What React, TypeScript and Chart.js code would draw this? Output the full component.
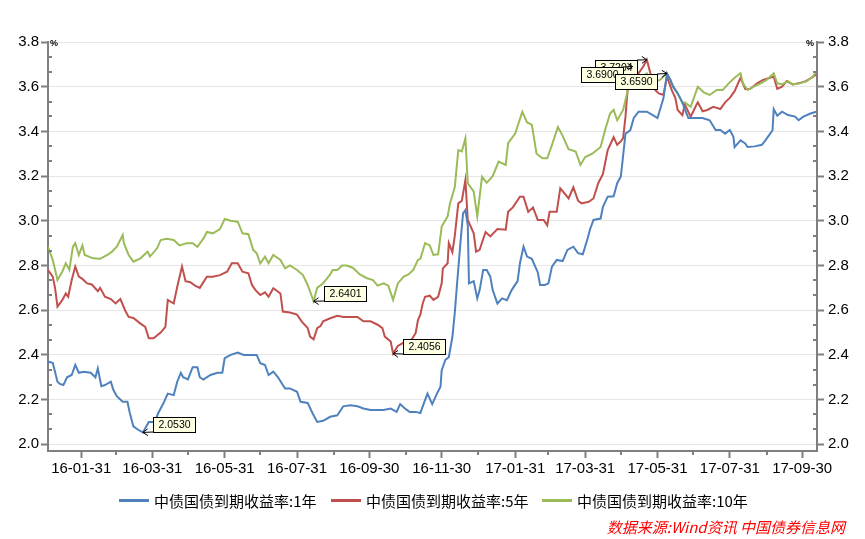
import React, { useEffect, useRef } from 'react';
import { Chart, registerables } from 'chart.js';

Chart.register(...registerables);

// ---------- data (day = days since 2016-01-01, value in %) ----------
const SERIES_NAMES = ['中债国债到期收益率:1年', '中债国债到期收益率:5年', '中债国债到期收益率:10年'];
const COLORS = ['#4F81BD', '#C0504D', '#9BBB59'];
const DRAW_ORDER = [0, 2, 1];

const YIELD_1Y: [number, number][] = [
  [2, 2.37], [6, 2.365], [10, 2.28], [12, 2.27], [15, 2.265], [18, 2.3], [22, 2.31], [25, 2.355], [28, 2.32], [32, 2.325],
  [38, 2.32], [42, 2.3], [44, 2.34], [47, 2.26], [50, 2.265], [55, 2.28], [57, 2.245], [60, 2.215], [65, 2.19], [69, 2.19],
  [71, 2.14], [74, 2.08], [78, 2.065], [82, 2.053], [87, 2.1], [92, 2.1], [95, 2.14], [99, 2.18], [103, 2.227], [108, 2.22],
  [111, 2.28], [114, 2.32], [116, 2.3], [120, 2.29], [124, 2.345], [128, 2.345], [130, 2.3], [133, 2.29], [139, 2.31], [145, 2.32],
  [149, 2.32], [151, 2.385], [156, 2.4], [162, 2.41], [167, 2.4], [173, 2.4], [178, 2.4], [181, 2.363], [185, 2.355], [188, 2.31],
  [192, 2.325], [196, 2.3], [200, 2.265], [202, 2.25], [206, 2.25], [212, 2.235], [215, 2.19], [221, 2.185], [225, 2.14], [229, 2.1],
  [234, 2.105], [240, 2.123], [246, 2.13], [251, 2.17], [257, 2.175], [263, 2.17], [268, 2.16], [274, 2.153], [280, 2.153], [285, 2.153],
  [291, 2.16], [296, 2.145], [299, 2.18], [303, 2.16], [307, 2.145], [312, 2.145], [316, 2.14], [318, 2.17], [322, 2.227], [326, 2.18],
  [330, 2.227], [333, 2.258], [334, 2.33], [337, 2.377], [340, 2.39], [343, 2.48], [345, 2.586], [347, 2.72], [350, 2.914], [352, 3.033],
  [354, 3.048], [356, 2.98], [357, 2.72], [361, 2.73], [364, 2.653], [366, 2.69], [369, 2.78], [372, 2.78], [375, 2.75], [377, 2.69],
  [381, 2.63], [385, 2.653], [389, 2.645], [393, 2.69], [398, 2.73], [400, 2.81], [403, 2.884], [406, 2.84], [410, 2.83], [415, 2.77],
  [417, 2.713], [421, 2.713], [424, 2.72], [427, 2.795], [431, 2.825], [436, 2.82], [440, 2.87], [445, 2.884], [449, 2.855], [453, 2.85],
  [457, 2.92], [459, 2.96], [462, 3.004], [468, 3.01], [470, 3.063], [474, 3.108], [479, 3.11], [482, 3.168], [485, 3.197], [486, 3.242],
  [489, 3.39], [493, 3.405], [496, 3.46], [500, 3.488], [507, 3.488], [512, 3.473], [516, 3.46], [518, 3.496], [521, 3.548], [524, 3.659],
  [527, 3.63], [529, 3.6], [533, 3.57], [537, 3.53], [539, 3.5], [542, 3.46], [548, 3.46], [554, 3.46], [560, 3.45], [565, 3.406],
  [569, 3.406], [573, 3.39], [577, 3.406], [580, 3.376], [581, 3.33], [586, 3.36], [590, 3.346], [592, 3.33], [598, 3.333], [604, 3.34],
  [607, 3.36], [611, 3.39], [613, 3.405], [614, 3.5], [617, 3.47], [621, 3.488], [626, 3.473], [632, 3.466], [635, 3.45], [639, 3.466],
  [645, 3.48], [650, 3.488],
];

const YIELD_5Y: [number, number][] = [
  [2, 2.78], [6, 2.75], [8, 2.698], [10, 2.616], [14, 2.645], [17, 2.675], [19, 2.66], [22, 2.735], [25, 2.795], [28, 2.75],
  [31, 2.74], [35, 2.72], [39, 2.715], [44, 2.685], [46, 2.7], [50, 2.66], [55, 2.65], [59, 2.63], [63, 2.65], [67, 2.6],
  [70, 2.57], [74, 2.565], [80, 2.54], [84, 2.525], [87, 2.474], [91, 2.474], [97, 2.5], [101, 2.525], [103, 2.646], [108, 2.63],
  [111, 2.705], [115, 2.795], [118, 2.73], [122, 2.725], [126, 2.71], [130, 2.7], [136, 2.75], [141, 2.75], [147, 2.757], [153, 2.772],
  [157, 2.81], [162, 2.81], [166, 2.772], [171, 2.765], [174, 2.713], [177, 2.69], [181, 2.668], [185, 2.68], [188, 2.66], [192, 2.698],
  [198, 2.675], [200, 2.594], [206, 2.59], [212, 2.58], [216, 2.549], [221, 2.52], [223, 2.482], [226, 2.47], [229, 2.52], [232, 2.53],
  [234, 2.55], [240, 2.564], [246, 2.575], [251, 2.57], [257, 2.57], [263, 2.57], [268, 2.55], [274, 2.55], [280, 2.535], [284, 2.52],
  [286, 2.482], [291, 2.46], [293, 2.4056], [297, 2.44], [302, 2.455], [307, 2.455], [312, 2.497], [314, 2.556], [316, 2.58], [318, 2.63],
  [320, 2.66], [324, 2.665], [327, 2.646], [331, 2.66], [334, 2.72], [335, 2.787], [339, 2.81], [340, 2.9], [343, 2.86], [345, 2.93],
  [348, 3.078], [351, 3.09], [354, 3.183], [356, 3.004], [361, 2.944], [363, 2.862], [366, 2.87], [371, 2.95], [375, 2.93], [381, 2.963],
  [388, 2.96], [390, 3.04], [394, 3.06], [400, 3.108], [403, 3.108], [407, 3.04], [411, 3.06], [415, 3.004], [420, 3.004], [423, 2.98],
  [425, 3.04], [431, 3.04], [434, 3.145], [438, 3.12], [441, 3.1], [445, 3.15], [449, 3.09], [452, 3.078], [458, 3.085], [462, 3.1],
  [466, 3.168], [470, 3.21], [474, 3.316], [479, 3.374], [482, 3.34], [485, 3.355], [487, 3.37], [489, 3.466], [491, 3.6], [495, 3.69],
  [500, 3.66], [504, 3.69], [507, 3.7204], [510, 3.66], [514, 3.585], [517, 3.57], [521, 3.563], [524, 3.645], [528, 3.585], [531, 3.55],
  [533, 3.496], [537, 3.473], [539, 3.52], [544, 3.466], [548, 3.51], [550, 3.53], [554, 3.49], [558, 3.496], [563, 3.51], [569, 3.5],
  [573, 3.53], [577, 3.55], [581, 3.58], [586, 3.64], [590, 3.59], [594, 3.59], [600, 3.615], [605, 3.63], [611, 3.64], [614, 3.645],
  [617, 3.59], [621, 3.6], [625, 3.625], [630, 3.61], [635, 3.615], [641, 3.625], [646, 3.64], [650, 3.655],
];

const YIELD_10Y: [number, number][] = [
  [2, 2.884], [6, 2.825], [10, 2.735], [14, 2.772], [17, 2.81], [20, 2.78], [23, 2.884], [25, 2.9], [28, 2.847], [31, 2.89],
  [33, 2.847], [40, 2.832], [46, 2.83], [52, 2.847], [56, 2.862], [60, 2.884], [65, 2.936], [66, 2.9], [70, 2.847], [74, 2.817],
  [80, 2.832], [86, 2.862], [88, 2.84], [94, 2.877], [97, 2.914], [102, 2.92], [108, 2.914], [113, 2.89], [119, 2.9], [124, 2.9],
  [128, 2.884], [133, 2.92], [136, 2.95], [141, 2.944], [147, 2.963], [151, 3.008], [156, 3.0], [162, 2.996], [166, 2.944], [171, 2.94],
  [175, 2.87], [178, 2.855], [181, 2.81], [185, 2.84], [188, 2.81], [192, 2.847], [198, 2.825], [202, 2.787], [206, 2.8], [212, 2.78],
  [217, 2.757], [221, 2.713], [226, 2.6401], [229, 2.7], [234, 2.72], [240, 2.76], [242, 2.78], [246, 2.78], [250, 2.8], [254, 2.8],
  [259, 2.79], [265, 2.76], [271, 2.743], [276, 2.735], [280, 2.71], [285, 2.72], [289, 2.71], [293, 2.646], [297, 2.72], [302, 2.75],
  [306, 2.76], [310, 2.78], [314, 2.825], [316, 2.83], [320, 2.9], [324, 2.89], [327, 2.847], [331, 2.85], [334, 2.974], [339, 3.02],
  [341, 3.078], [345, 3.15], [348, 3.316], [351, 3.31], [354, 3.369], [356, 3.168], [361, 3.13], [364, 3.02], [368, 3.197], [372, 3.17],
  [377, 3.2], [382, 3.265], [388, 3.25], [390, 3.347], [396, 3.39], [402, 3.488], [406, 3.44], [410, 3.43], [414, 3.3], [419, 3.28],
  [423, 3.28], [427, 3.34], [432, 3.42], [436, 3.38], [441, 3.32], [447, 3.31], [451, 3.25], [455, 3.285], [461, 3.3], [468, 3.33],
  [472, 3.41], [476, 3.48], [479, 3.496], [482, 3.45], [487, 3.496], [491, 3.585], [496, 3.615], [501, 3.64], [507, 3.66], [512, 3.615],
  [518, 3.63], [524, 3.66], [528, 3.615], [533, 3.57], [537, 3.526], [539, 3.53], [544, 3.51], [548, 3.57], [550, 3.6], [555, 3.575],
  [560, 3.563], [566, 3.585], [571, 3.585], [576, 3.615], [581, 3.64], [586, 3.66], [588, 3.615], [592, 3.585], [597, 3.6], [603, 3.615],
  [608, 3.63], [614, 3.66], [617, 3.615], [621, 3.61], [626, 3.625], [630, 3.61], [636, 3.615], [642, 3.625], [647, 3.645], [650, 3.667],
];

const SERIES = [YIELD_1Y, YIELD_5Y, YIELD_10Y];

// ---------- axes ----------
const X_TICK_LABELS = ['16-01-31', '16-03-31', '16-05-31', '16-07-31', '16-09-30', '16-11-30', '17-01-31', '17-03-31', '17-05-31', '17-07-31', '17-09-30'];
const X_MINOR_DATES = ['16-02-29', '16-04-30', '16-06-30', '16-08-31', '16-10-31', '16-12-31', '17-02-28', '17-04-30', '17-06-30', '17-08-31'];
const Y_TICKS = [2.0, 2.2, 2.4, 2.6, 2.8, 3.0, 3.2, 3.4, 3.6, 3.8];
const X_MIN = 2;
const X_MAX = 650.5;
const Y_MIN = 1.97;
const Y_MAX = 3.8;

// ---------- annotations (day, value, side of box) ----------
const ANNOT_DAYS = [82, 293, 226, 507, 495, 524];
const ANNOT_VALUES = [2.053, 2.4056, 2.6401, 3.7204, 3.69, 3.659];
const ANNOT_SIDES = ['right', 'right', 'right', 'left', 'left', 'left'];

const SOURCE_TEXT = '数据来源:Wind资讯 中国债券信息网';

const FONT = '"Liberation Sans", Arial, sans-serif';
const CJK_FONT = '"Noto Sans CJK SC", "Liberation Sans", sans-serif';
const AXIS_COLOR = '#7F7F7F';

function dayOf(s: string): number {
  const [yy, mm, dd] = s.split('-').map(Number);
  return (Date.UTC(2000 + yy, mm - 1, dd) - Date.UTC(2016, 0, 1)) / 86400000;
}

const X_MAJOR_DAYS = X_TICK_LABELS.map(dayOf);
const X_MINOR_DAYS = X_MINOR_DATES.map(dayOf);

const decorPlugin = {
  id: 'decor',
  afterDraw(chart: any) {
    const { ctx, chartArea } = chart;
    const xs = chart.scales.x;
    const ys = chart.scales.y;
    ctx.save();
    // minor ticks
    ctx.strokeStyle = AXIS_COLOR;
    ctx.lineWidth = 2;
    ctx.beginPath();
    X_MINOR_DAYS.forEach((d) => {
      const px = Math.round(xs.getPixelForValue(d));
      ctx.moveTo(px, chartArea.bottom);
      ctx.lineTo(px, chartArea.bottom + 4);
    });
    for (let i = 0; i < Y_TICKS.length - 1; i++) {
      for (let k = 1; k <= 2; k++) {
        const v = Y_TICKS[i] + ((Y_TICKS[i + 1] - Y_TICKS[i]) * k) / 3;
        const py = Math.round(ys.getPixelForValue(v));
        ctx.moveTo(chartArea.left, py);
        ctx.lineTo(chartArea.left + 4, py);
        ctx.moveTo(chartArea.right - 4, py);
        ctx.lineTo(chartArea.right, py);
      }
    }
    ctx.stroke();

    // unit labels
    ctx.fillStyle = '#000';
    ctx.font = `bold 9px ${FONT}`;
    ctx.textBaseline = 'alphabetic';
    ctx.textAlign = 'left';
    ctx.fillText('%', chartArea.left + 2, chartArea.top + 4);
    ctx.textAlign = 'right';
    ctx.fillText('%', chartArea.right - 3, chartArea.top + 4);

    // annotations
    ctx.font = `10.5px ${FONT}`;
    ctx.textAlign = 'left';
    ctx.textBaseline = 'middle';
    ANNOT_DAYS.forEach((d, i) => {
      const px = xs.getPixelForValue(d);
      const py = ys.getPixelForValue(ANNOT_VALUES[i]);
      const text = ANNOT_VALUES[i].toFixed(4);
      const w = Math.round(ctx.measureText(text).width) + 10;
      const h = 15;
      let bx: number, by: number, cx: number, cy: number;
      if (ANNOT_SIDES[i] === 'right') {
        bx = Math.round(px + 10);
        by = Math.round(py - h);
        cx = bx;
        cy = by + h;
      } else {
        bx = Math.round(px - 10 - w);
        by = Math.round(py);
        cx = bx + w;
        cy = by;
      }
      // arrow
      ctx.strokeStyle = '#000';
      ctx.lineWidth = 1;
      ctx.beginPath();
      ctx.moveTo(cx, cy);
      ctx.lineTo(px, py);
      const ang = Math.atan2(py - cy, px - cx);
      const L = 6;
      ctx.moveTo(px, py);
      ctx.lineTo(px - L * Math.cos(ang - 0.6), py - L * Math.sin(ang - 0.6));
      ctx.moveTo(px, py);
      ctx.lineTo(px - L * Math.cos(ang + 0.6), py - L * Math.sin(ang + 0.6));
      ctx.stroke();
      // box
      ctx.fillStyle = '#FFFFE1';
      ctx.fillRect(bx + 0.5, by + 0.5, w, h);
      ctx.strokeRect(bx + 0.5, by + 0.5, w, h);
      ctx.fillStyle = '#000';
      ctx.fillText(text, bx + 5.5, by + h / 2 + 1);
    });
    ctx.restore();
  },
};

export default function App() {
  const ref = useRef<HTMLCanvasElement>(null);

  useEffect(() => {
    const tickFont = { family: FONT, size: 15 };
    const chart = new Chart(ref.current as HTMLCanvasElement, {
      type: 'line',
      data: {
        datasets: SERIES.map((s, i) => ({
          label: SERIES_NAMES[i],
          data: s.map(([d, v]) => ({ x: d, y: v })),
          borderColor: COLORS[i],
          backgroundColor: COLORS[i],
          borderWidth: 2,
          pointRadius: 0,
          tension: 0,
          order: DRAW_ORDER[i],
          xAxisID: 'x',
          yAxisID: 'y',
        })),
      },
      options: {
        animation: false,
        responsive: false,
        devicePixelRatio: 1,
        layout: { padding: { top: 42, bottom: 58, left: 0, right: 0 } },
        plugins: { legend: { display: false }, tooltip: { enabled: false } },
        scales: {
          x: {
            type: 'linear',
            min: X_MIN,
            max: X_MAX,
            afterBuildTicks: (s: any) => {
              s.ticks = X_MAJOR_DAYS.map((v) => ({ value: v }));
            },
            afterFit: (s: any) => {
              s.height = 30;
            },
            ticks: {
              autoSkip: false,
              maxRotation: 0,
              minRotation: 0,
              padding: 2,
              color: '#000',
              font: tickFont,
              callback: (_v: any, idx: number) => X_TICK_LABELS[idx],
            },
            grid: { drawOnChartArea: false, drawTicks: true, tickLength: 7, tickColor: AXIS_COLOR, tickWidth: 2 },
            border: { display: true, color: AXIS_COLOR, width: 2 },
          },
          y: {
            type: 'linear',
            position: 'left',
            min: Y_MIN,
            max: Y_MAX,
            afterBuildTicks: (s: any) => {
              s.ticks = Y_TICKS.map((v) => ({ value: v }));
            },
            afterFit: (s: any) => {
              s.width = 48;
            },
            ticks: { padding: 2, color: '#000', font: tickFont, callback: (v: any) => Number(v).toFixed(1) },
            grid: { color: '#E6E6E6', lineWidth: 1, drawTicks: true, tickLength: 7, tickColor: AXIS_COLOR, tickWidth: 2 },
            border: { display: true, color: AXIS_COLOR, width: 2 },
          },
          y2: {
            type: 'linear',
            position: 'right',
            min: Y_MIN,
            max: Y_MAX,
            afterBuildTicks: (s: any) => {
              s.ticks = Y_TICKS.map((v) => ({ value: v }));
            },
            afterFit: (s: any) => {
              s.width = 48;
            },
            ticks: { padding: 4, color: '#000', font: tickFont, callback: (v: any) => Number(v).toFixed(1) },
            grid: { drawOnChartArea: false, drawTicks: true, tickLength: 7, tickColor: AXIS_COLOR, tickWidth: 2 },
            border: { display: true, color: AXIS_COLOR, width: 2 },
          },
        },
      } as any,
      plugins: [decorPlugin],
    });
    return () => chart.destroy();
  }, []);

  const legendX = [119, 331, 542];

  return (
    <div style={{ position: 'absolute', left: 0, top: 0, width: 865, height: 539, background: '#fff' }}>
      <canvas ref={ref} width={865} height={539} style={{ display: 'block', width: 865, height: 539 }} />
      {SERIES_NAMES.map((name, i) => (
        <div
          key={name}
          style={{
            position: 'absolute',
            left: legendX[i],
            top: 490,
            height: 20,
            display: 'flex',
            alignItems: 'center',
            fontFamily: CJK_FONT,
            fontSize: 15,
            color: '#000',
            whiteSpace: 'nowrap',
          }}
        >
          <span style={{ display: 'inline-block', width: 30, height: 3, background: COLORS[i], marginRight: 5 }} />
          <span>{name}</span>
        </div>
      ))}
      <div
        style={{
          position: 'absolute',
          right: 20,
          top: 517,
          height: 20,
          lineHeight: '20px',
          fontFamily: CJK_FONT,
          fontSize: 15,
          fontStyle: 'italic',
          color: '#FF0000',
          whiteSpace: 'nowrap',
        }}
      >
        {SOURCE_TEXT}
      </div>
    </div>
  );
}
